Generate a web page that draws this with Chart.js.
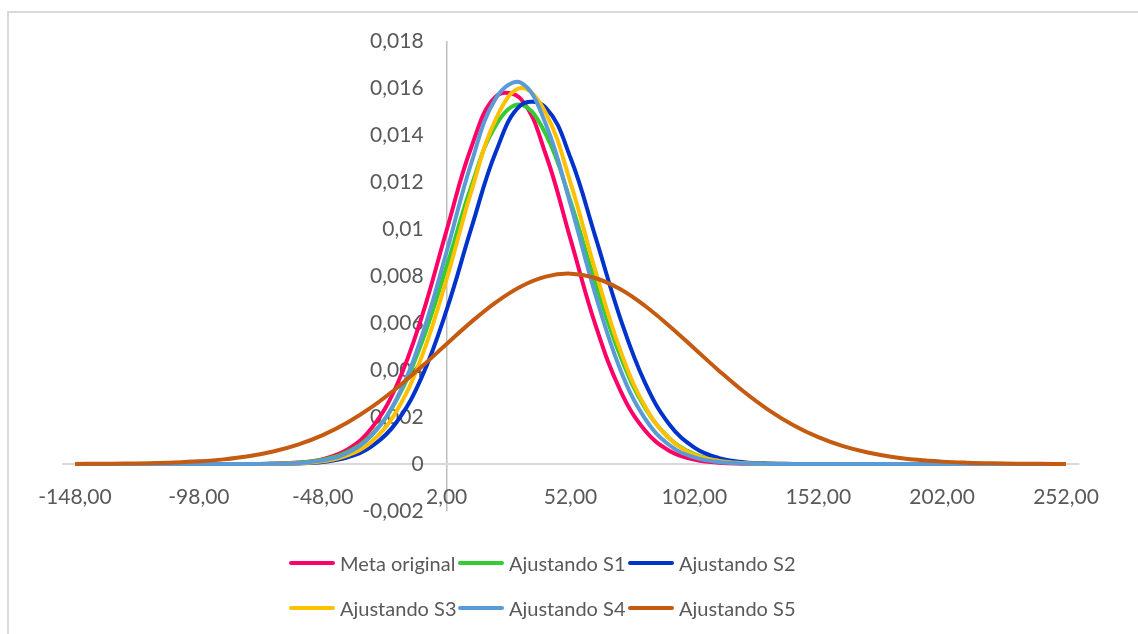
<!DOCTYPE html>
<html lang="es">
<head>
<meta charset="utf-8">
<title>Meta original y ajustes S1-S5</title>
<script src="https://cdn.jsdelivr.net/npm/chart.js@4.4.1/dist/chart.umd.min.js"></script>
<style>
    html, body { margin: 0; padding: 0; background: #fff; overflow: hidden; }
    body { width: 1138px; height: 634px; position: relative; font-family: Lato, 'Open Sans', sans-serif; }
    .frame { position: absolute; left: 7px; top: 11px; width: 1200px; height: 700px; border: 2px solid #d9d9d9; box-sizing: border-box; }
    #chart { position: absolute; left: 0; top: 0; }
    #legend { position: absolute; left: 289px; top: 551px; display: grid; grid-template-columns: 169px 170px auto; grid-auto-rows: 45px; align-items: start; }
    .item { display: flex; align-items: center; height: 24px; font-size: 20px; color: #595959; white-space: nowrap; }
    .swatch { width: 46px; height: 4px; border-radius: 2px; margin-right: 5px; }
</style>
</head>
<body>
<div class="frame"></div>
<canvas id="chart" width="1138" height="634"></canvas>
<div id="legend"></div>
<script>
// x categories (step 10) and the six curves
const xValues = [-148, -138, -128, -118, -108, -98, -88, -78, -68, -58, -48, -38, -28, -18, -8,
    2, 12, 22, 32, 42, 52, 62, 72, 82, 92, 102, 112, 122, 132, 142, 152, 162, 172, 182, 192,
    202, 212, 222, 232, 242, 252];

const metaOriginal = [0, 0, 0, 0, 0, 0, 0, 0.000003, 0.000015, 0.00006, 0.000208, 0.000617, 0.001563, 0.003385, 0.006274,
    0.009949, 0.013491, 0.01565, 0.01553, 0.01318, 0.009567, 0.00594, 0.003155, 0.001433, 0.000557, 0.000185, 0.000053, 0.000013, 0.000003, 0, 0, 0, 0, 0, 0,
    0, 0, 0, 0, 0, 0];
const ajustandoS1 = [0, 0, 0, 0, 0, 0, 0, 0.000003, 0.000014, 0.000054, 0.00018, 0.000516, 0.001284, 0.002769, 0.00518,
    0.008407, 0.011831, 0.014443, 0.015289, 0.014038, 0.011177, 0.007719, 0.004622, 0.002401, 0.001082, 0.000423, 0.000143, 0.000042, 0.000011, 0.000002, 0, 0, 0, 0, 0,
    0, 0, 0, 0, 0, 0];
const ajustandoS2 = [0, 0, 0, 0, 0, 0, 0, 0, 0.000006, 0.000024, 0.000089, 0.000281, 0.000766, 0.00181, 0.003705,
    0.006557, 0.010044, 0.013315, 0.015275, 0.015165, 0.013029, 0.009688, 0.006233, 0.00347, 0.001672, 0.000698, 0.000252, 0.000079, 0.000021, 0.000005, 0.000001, 0, 0, 0, 0,
    0, 0, 0, 0, 0, 0];
const ajustandoS3 = [0, 0, 0, 0, 0, 0, 0, 0.000001, 0.000007, 0.000031, 0.000114, 0.000361, 0.00098, 0.002286, 0.004578,
    0.007869, 0.011611, 0.014709, 0.015997, 0.014936, 0.011971, 0.008237, 0.004866, 0.002467, 0.001074, 0.000402, 0.000129, 0.000036, 0.000008, 0.000002, 0, 0, 0, 0, 0,
    0, 0, 0, 0, 0, 0];
const ajustandoS4 = [0, 0, 0, 0, 0, 0, 0, 0.000002, 0.00001, 0.000043, 0.000153, 0.000472, 0.001246, 0.002815, 0.005449,
    0.009032, 0.012822, 0.015586, 0.016227, 0.014468, 0.011048, 0.007226, 0.004047, 0.001941, 0.000797, 0.000281, 0.000085, 0.000022, 0.000005, 0, 0, 0, 0, 0, 0,
    0, 0, 0, 0, 0, 0];
const ajustandoS5 = [0.000004, 0.000008, 0.000017, 0.000033, 0.000063, 0.000114, 0.000197, 0.00033, 0.000532, 0.000825, 0.001231, 0.001767, 0.00244, 0.003243, 0.004148,
    0.005105, 0.006047, 0.006891, 0.007557, 0.007975, 0.0081, 0.007914, 0.007442, 0.006734, 0.005864, 0.004913, 0.003961, 0.003073, 0.002295, 0.001649, 0.00114, 0.000758, 0.000486, 0.000299, 0.000177,
    0.000101, 0.000056, 0.000029, 0.000015, 0.000007, 0.000003];

const seriesNames  = ['Meta original', 'Ajustando S1', 'Ajustando S2', 'Ajustando S3', 'Ajustando S4', 'Ajustando S5'];
const seriesValues = [metaOriginal, ajustandoS1, ajustandoS2, ajustandoS3, ajustandoS4, ajustandoS5];
const seriesColors = ['#FF0066', '#33CC33', '#0033CC', '#FFC000', '#5B9BD5', '#C55A11'];

const xTickValues = [-148, -98, -48, 2, 52, 102, 152, 202, 252];
const xTickLabels = ['-148,00', '-98,00', '-48,00', '2,00', '52,00', '102,00', '152,00', '202,00', '252,00'];
const yTickValues = [-0.002, 0, 0.002, 0.004, 0.006, 0.008, 0.01, 0.012, 0.014, 0.016, 0.018];
const yTickLabels = ['-0,002', '0', '0,002', '0,004', '0,006', '0,008', '0,01', '0,012', '0,014', '0,016', '0,018'];

const Y_AXIS_AT = 2;        // vertical axis crosses the x axis at 2,00
const Y_LABELS_AT = -7.3;   // labels sit a little to the left of that line

const TEXT = '#595959';
const tickFont = { family: "Lato, 'Open Sans', sans-serif", size: 21 };

const datasets = seriesValues.map((vals, i) => ({
    label: seriesNames[i],
    data: vals.map((y, k) => ({ x: xValues[k], y })),
    borderColor: seriesColors[i],
    backgroundColor: seriesColors[i],
    borderWidth: 4,
    pointRadius: 0,
    tension: 0.4,
    fill: false,
    order: seriesValues.length - i   // later series on top, like the original
}));

new Chart(document.getElementById('chart'), {
    type: 'line',
    data: { datasets },
    options: {
        responsive: false,
        animation: false,
        events: [],
        layout: { padding: { left: 62.6, right: 59.6, top: 41, bottom: 123 } },
        plugins: { legend: { display: false }, tooltip: { enabled: false } },
        scales: {
            x: {
                type: 'linear',
                min: -153,
                max: 257,
                position: { y: 0 },
                // only the grid line at 2,00 is shown: it is the vertical axis line
                grid: {
                    display: true, drawTicks: false, lineWidth: 1.5,
                    color: (c) => (c.tick && c.tick.value === Y_AXIS_AT ? '#bfbfbf' : 'rgba(0,0,0,0)')
                },
                border: { display: true, color: '#d9d9d9', width: 2 },
                afterBuildTicks: (s) => { s.ticks = xTickValues.map(v => ({ value: v })); },
                ticks: {
                    padding: 21, autoSkip: false, maxRotation: 0, color: TEXT, font: tickFont,
                    callback: (v, i) => xTickLabels[i]
                }
            },
            y: {
                type: 'linear',
                min: -0.002,
                max: 0.018,
                position: { x: Y_LABELS_AT },
                grid: { display: false, drawTicks: false },
                border: { display: false },
                afterBuildTicks: (s) => { s.ticks = yTickValues.map(v => ({ value: v })); },
                ticks: {
                    padding: 0, autoSkip: false, color: TEXT, font: tickFont,
                    callback: (v, i) => yTickLabels[i]
                }
            }
        }
    }
});

// legend laid out in two rows of three, as in the original
const legend = document.getElementById('legend');
legend.innerHTML = seriesNames.map((name, i) =>
    `<div class="item"><span class="swatch" style="background:${seriesColors[i]}"></span>${name}</div>`
).join('');
</script>
</body>
</html>
